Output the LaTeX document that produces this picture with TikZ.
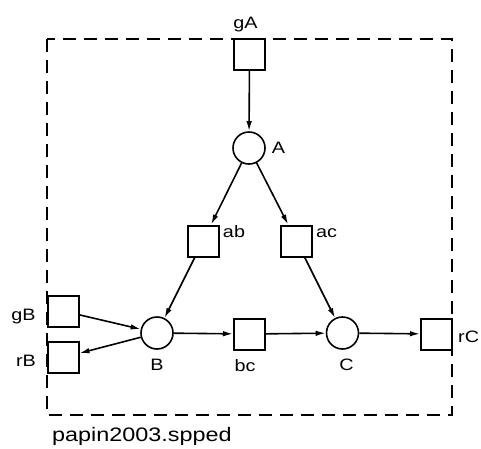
\documentclass[tikz,border=0pt]{standalone}
\usepackage{fontspec}
\setmainfont{Liberation Sans}[FakeStretch=1.2]
\usetikzlibrary{arrows.meta}
\tikzset{
  place/.style={circle, draw, line width=1.6pt, minimum size=32pt, inner sep=0pt},
  trans/.style={rectangle, draw, line width=2pt, minimum size=31pt, inner sep=0pt},
  arc/.style={line width=1.6pt, -{Latex[length=10pt,width=5.5pt]}},
  lbl/.style={inner sep=0pt, anchor=base, font=\fontsize{16.5}{16.5}\selectfont},
  frame/.style={line width=1.5pt, dash pattern=on 13pt off 8pt}
}
\begin{document}
\begin{tikzpicture}[x=1pt, y=-1pt]
  \useasboundingbox (0,0) rectangle (481,448);
  % module boundary
  \draw[frame] (47,39) rectangle (452,415);
  % transitions
  \node[trans] (gA) at (249.5,54.5) {};
  \node[trans] (ab) at (203,241) {};
  \node[trans] (ac) at (296.5,241) {};
  \node[trans] (bc) at (249.5,334) {};
  \node[trans] (rC) at (436.5,334) {};
  \node[trans] (gB) at (63,311) {};
  \node[trans] (rB) at (63,357.5) {};
  % places
  \node[place] (A) at (249,148) {};
  \node[place] (B) at (157,333) {};
  \node[place] (C) at (342.5,333) {};
  % arcs
  \draw[arc] (gA) -- (A);
  \draw[arc] (A) -- (ab);
  \draw[arc] (A) -- (ac);
  \draw[arc] (ab) -- (B);
  \draw[arc] (ac) -- (C);
  \draw[arc] (gB) -- (B);
  \draw[arc] (B) -- (rB);
  \draw[arc] (B) -- (bc);
  \draw[arc] (bc) -- (C);
  \draw[arc] (C) -- (rC);
  % labels
  \node[lbl] (tgA) at (245.5,28) {gA};
  \node[lbl] (tA) at (278.5,153) {A};
  \node[lbl] (tab) at (234,237) {ab};
  \node[lbl] (tac) at (326.5,237) {ac};
  \node[lbl] (tB) at (157,370) {B};
  \node[lbl] (tbc) at (245,371) {bc};
  \node[lbl] (tC) at (346.5,370) {C};
  \node[lbl, anchor=base west] (trC) at (458,342) {rC};
  \node[lbl] (tgB) at (23.5,320) {gB};
  \node[lbl] (trB) at (26,366) {rB};
  \node[inner sep=0pt, anchor=base west, font=\fontsize{19.5}{19.5}\selectfont] (cap) at (52,441) {papin2003.spped};
\end{tikzpicture}
\end{document}
